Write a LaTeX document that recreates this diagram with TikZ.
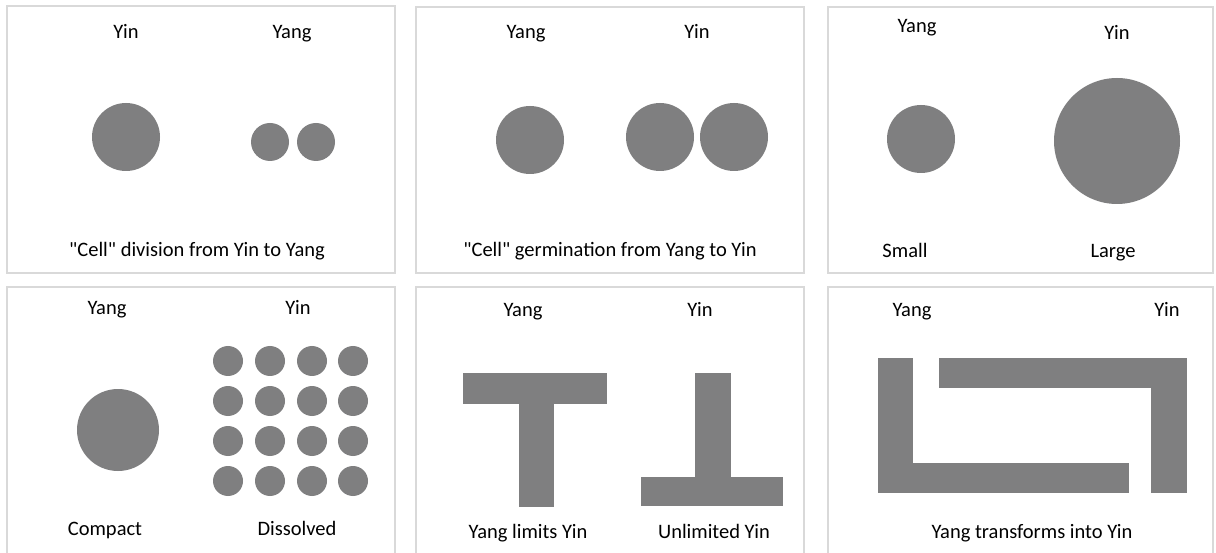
\documentclass[tikz,border=0pt]{standalone}
\usepackage{fontspec}
\setmainfont{Carlito}[Ligatures=TeXOff]
\definecolor{shapegray}{RGB}{127,127,128}
\definecolor{framegray}{RGB}{217,217,217}
\tikzset{
  panel/.style={draw=framegray, line width=1.5pt, fill=white},
  shp/.style={fill=shapegray},
  lbl/.style={anchor=base, inner sep=0pt, font=\fontsize{20.5}{24}\selectfont, text=black}
}
\begin{document}
\begin{tikzpicture}[x=1pt,y=-1pt]
\useasboundingbox (0,0) rectangle (1216,553);
% panels
\draw[panel] (7,6) rectangle (395,273);
\draw[panel] (416,7) rectangle (804,273);
\draw[panel] (828,7) rectangle (1213,273);
\draw[panel] (7,287) rectangle (395,570);
\draw[panel] (416,287) rectangle (804,570);
\draw[panel] (828,287) rectangle (1213,570);

% panel 1
\node[lbl] (p1a) at (126,39) {Yin};
\node[lbl] (p1b) at (292,39) {Yang};
\fill[shp] (126,137) circle (34);
\fill[shp] (270,142) circle (19);
\fill[shp] (316,142) circle (19);
\node[lbl] (p1c) at (197,257) {"Cell" division from Yin to Yang};

% panel 2
\node[lbl] (p2a) at (526,39) {Yang};
\node[lbl] (p2b) at (697,39) {Yin};
\fill[shp] (530,140) circle (34);
\fill[shp] (660,137) circle (34);
\fill[shp] (734,137) circle (34);
\node[lbl] (p2c) at (610,257) {"Cell" germination from Yang to Yin};

% panel 3
\node[lbl] (p3a) at (917,33) {Yang};
\node[lbl] (p3b) at (1117,40) {Yin};
\fill[shp] (921,139) circle (34);
\fill[shp] (1117,141) circle (63);
\node[lbl] (p3c) at (905,258) {Small};
\node[lbl] (p3d) at (1113,258) {Large};

% panel 4
\node[lbl] (p4a) at (107,315) {Yang};
\node[lbl] (p4b) at (298,315) {Yin};
\fill[shp] (118,430) circle (41);
\foreach \cx in {228,270,312,353}
  \foreach \cy in {361,401,441,481}
    \fill[shp] (\cx,\cy) circle (15);
\node[lbl] (p4c) at (105,535) {Compact};
\node[lbl] (p4d) at (297,535) {Dissolved};

% panel 5
\node[lbl] (p5a) at (523,317) {Yang};
\node[lbl] (p5b) at (700,317) {Yin};
\fill[shp] (463,373) rectangle (607,404);
\fill[shp] (519,403) rectangle (554,507);
\fill[shp] (695,373) rectangle (731,478);
\fill[shp] (641,477) rectangle (783,506);
\node[lbl] (p5c) at (528,538) {Yang limits Yin};
\node[lbl] (p5d) at (714,538) {Unlimited Yin};

% panel 6
\node[lbl] (p6a) at (912,317) {Yang};
\node[lbl] (p6b) at (1167,317) {Yin};
\fill[shp] (878,358) rectangle (913,493);
\fill[shp] (912,463) rectangle (1129,493);
\fill[shp] (939,358) rectangle (1187,388);
\fill[shp] (1151,387) rectangle (1187,493);
\node[lbl] (p6c) at (1032,538) {Yang transforms into Yin};
\end{tikzpicture}
\end{document}
